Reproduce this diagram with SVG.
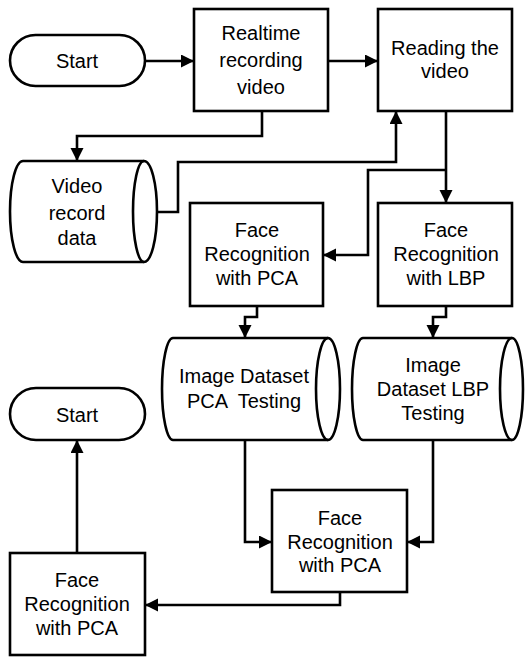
<svg xmlns="http://www.w3.org/2000/svg" width="528" height="657" viewBox="0 0 528 657">
<style>
.s{fill:#fff;stroke:#000;stroke-width:2.6;stroke-linejoin:miter}
.c{fill:none;stroke:#000;stroke-width:2.6}
text{font-family:"Liberation Sans",Arial,sans-serif;font-size:20px;fill:#000;text-anchor:middle}
.pre{white-space:pre}
</style>
<defs>
<marker id="ah" markerUnits="userSpaceOnUse" markerWidth="14" markerHeight="14" refX="13" refY="6.5" orient="auto">
<path d="M0,0 L13,6.5 L0,13 z" fill="#000"/>
</marker>
</defs>
<rect width="528" height="657" fill="#fff"/>
<g id="connectors">
<path class="c" d="M145,61 H194" marker-end="url(#ah)"/>
<path class="c" d="M328,61 H378" marker-end="url(#ah)"/>
<path class="c" d="M262,111 V136 H77 V161" marker-end="url(#ah)"/>
<path class="c" d="M158,212 H178 V162 H396 V111" marker-end="url(#ah)"/>
<path class="c" d="M446,111 V203" marker-end="url(#ah)"/>
<path class="c" d="M446,170 H368 V255 H323" marker-end="url(#ah)"/>
<path class="c" d="M257,306 V317 H245 V338" marker-end="url(#ah)"/>
<path class="c" d="M446,306 V317 H433 V338" marker-end="url(#ah)"/>
<path class="c" d="M245,440 V542 H272" marker-end="url(#ah)"/>
<path class="c" d="M433,440 V542 H407" marker-end="url(#ah)"/>
<path class="c" d="M340,592 V605 H145" marker-end="url(#ah)"/>
<path class="c" d="M77,553 V440" marker-end="url(#ah)"/>
</g>
<g id="start1">
<rect class="s" x="10" y="35" width="135" height="51" rx="25.5"/>
<text x="77" y="68">Start</text>
</g>
<g id="realtime">
<rect class="s" x="194" y="9" width="134" height="102"/>
<text x="261" y="40">Realtime</text>
<text x="261" y="67">recording</text>
<text x="261" y="94">video</text>
</g>
<g id="reading">
<rect class="s" x="378" y="9" width="134" height="102"/>
<text x="445" y="55">Reading the</text>
<text x="445" y="78">video</text>
</g>
<g id="videodata">
<path class="s" d="M23,161 H144 A13,50.5 0 0 1 144,262 H23 A13,50.5 0 0 1 23,161 Z"/>
<path class="c" d="M144,161 A11,50.5 0 0 0 144,262"/>
<text x="77" y="193">Video</text>
<text x="77" y="220">record</text>
<text x="77" y="245">data</text>
</g>
<g id="frpca">
<rect class="s" x="190" y="203" width="133" height="103"/>
<text x="257" y="237">Face</text>
<text x="257" y="261">Recognition</text>
<text x="257" y="285">with PCA</text>
</g>
<g id="frlbp">
<rect class="s" x="378" y="203" width="134" height="103"/>
<text x="446" y="237">Face</text>
<text x="446" y="261">Recognition</text>
<text x="446" y="285">with LBP</text>
</g>
<g id="imgpca">
<path class="s" d="M173,338 H328 A12,51 0 0 1 328,440 H173 A11,51 0 0 1 173,338 Z"/>
<path class="c" d="M328,338 A12,51 0 0 0 328,440"/>
<text x="244" y="383">Image Dataset</text>
<text class="pre" x="244" y="408">PCA  Testing</text>
</g>
<g id="imglbp">
<path class="s" d="M363,338 H512 A11,51 0 0 1 512,440 H363 A11,51 0 0 1 363,338 Z"/>
<path class="c" d="M512,338 A12,51 0 0 0 512,440"/>
<text x="433" y="372">Image</text>
<text x="433" y="396">Dataset LBP</text>
<text x="433" y="420">Testing</text>
</g>
<g id="start2">
<rect class="s" x="10" y="388" width="135" height="52" rx="26"/>
<text x="77" y="422">Start</text>
</g>
<g id="frpca2">
<rect class="s" x="272" y="490" width="135" height="102"/>
<text x="340" y="525">Face</text>
<text x="340" y="549">Recognition</text>
<text x="340" y="572">with PCA</text>
</g>
<g id="frpca3">
<rect class="s" x="10" y="553" width="135" height="102"/>
<text x="77" y="587">Face</text>
<text x="77" y="611">Recognition</text>
<text x="77" y="635">with PCA</text>
</g>
</svg>
